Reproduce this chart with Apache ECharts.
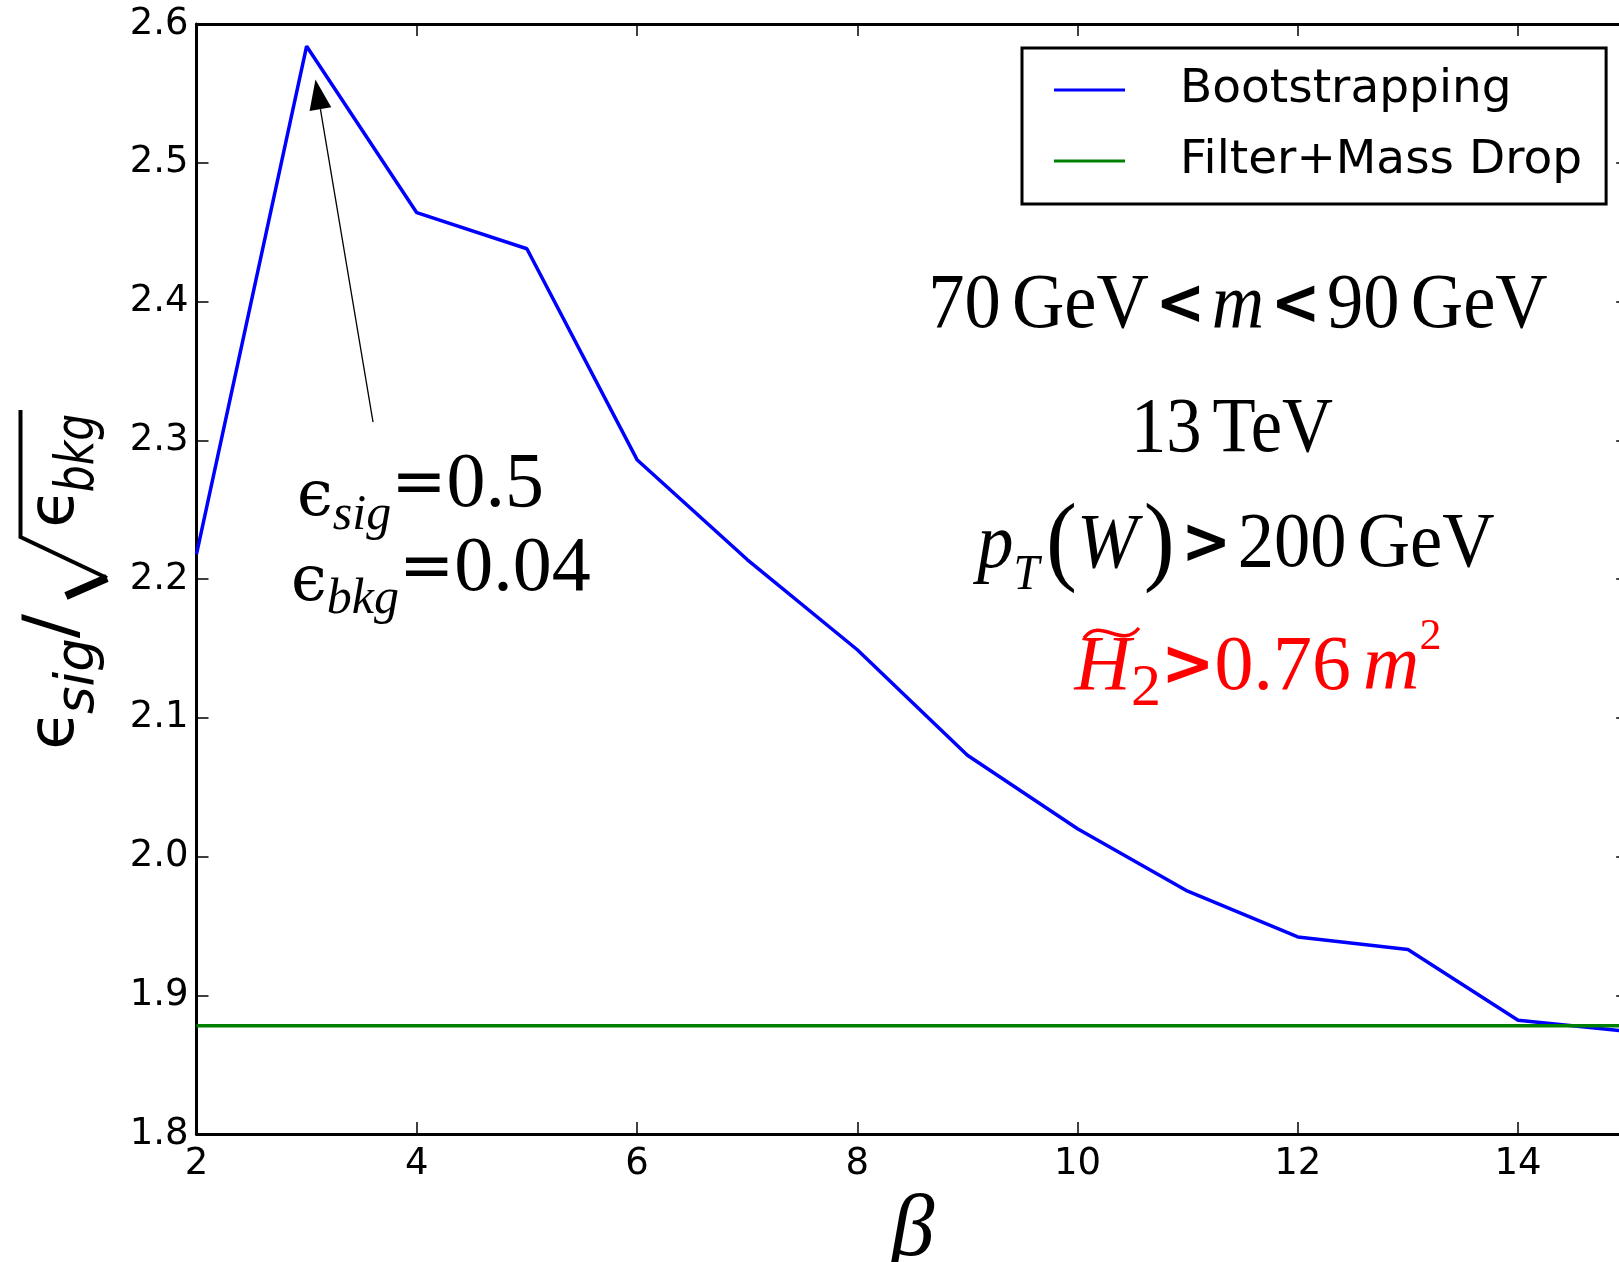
<!DOCTYPE html>
<html>
<head>
<meta charset="utf-8">
<script src="https://cdn.jsdelivr.net/npm/echarts@6/dist/echarts.min.js"></script>
<style>
  html, body { margin: 0; padding: 0; background: #fff; }
  #chart { width: 1619px; height: 1262px; }
</style>
</head>
<body>
<div id="chart"></div>
<script>
// beta scan, eff_sig / sqrt(eff_bkg)
const betaValues = [2, 3, 4, 5, 6, 7, 8, 9, 10, 11, 12, 13, 14, 15]
const bootstrapping = [2.218, 2.584, 2.464, 2.438, 2.286, 2.214, 2.149, 2.073, 2.020, 1.975, 1.942, 1.933, 1.882, 1.874]
const filterMassDrop = [1.878, 1.878, 1.878, 1.878, 1.878, 1.878, 1.878, 1.878, 1.878, 1.878, 1.878, 1.878, 1.878, 1.878]
const xTicks = [2, 4, 6, 8, 10, 12, 14]
const yTicks = [1.8, 1.9, 2.0, 2.1, 2.2, 2.3, 2.4, 2.5, 2.6]
// annotation arrow (data coords)
const arrowTip = [3.08, 2.56]
const arrowTail = [3.603, 2.313]

const serif = "'Liberation Serif', 'Times New Roman', serif"
const sans = "'DejaVu Sans', sans-serif"

// token "height" drives the sub/superscript offset (bottom/top of a 90px line)
function richSet(color) {
  return {
    n: { fontFamily: serif, fontSize: 78, lineHeight: 90, fill: color, verticalAlign: 'middle' },
    i: { fontFamily: serif, fontStyle: 'italic', fontSize: 78, lineHeight: 90, fill: color, verticalAlign: 'middle' },
    op: { fontFamily: sans, fontWeight: 'bold', fontSize: 64, lineHeight: 90, fill: color, verticalAlign: 'middle' },
    sp: { fontFamily: serif, fontSize: 48, lineHeight: 90, fill: color, verticalAlign: 'middle' },
    g: { fontFamily: sans, fontSize: 22, lineHeight: 90, fill: color, verticalAlign: 'middle' },
    sub: { fontFamily: serif, fontStyle: 'italic', fontSize: 50, height: 30, fill: color, verticalAlign: 'bottom' },
    subn: { fontFamily: serif, fontSize: 60, height: 48, fill: color, verticalAlign: 'bottom' },
    sup: { fontFamily: serif, fontSize: 44, height: 28, fill: color, verticalAlign: 'top' },
    par: { fontFamily: serif, fontSize: 100, lineHeight: 90, fill: color, verticalAlign: 'middle' },
    eps: { fontFamily: "'DejaVu Serif', serif", fontSize: 64, height: 64, fill: color, verticalAlign: 'bottom' },
    eq: { fontFamily: sans, fontSize: 66, lineHeight: 90, fill: color, verticalAlign: 'middle' },
  }
}

function mathText(text, x, y, color, align, scaleX) {
  return {
    type: 'text',
    x: x,
    y: y,
    scaleX: scaleX || 1,
    silent: true,
    style: {
      text: text,
      rich: richSet(color),
      align: align || 'center',
      verticalAlign: 'middle',
      fill: color,
    },
  }
}

// rotated pieces of the y axis title
function yPiece(text, x, y, size, italic, scaleX) {
  return {
    type: 'text',
    x: x,
    y: y,
    rotation: Math.PI / 2,
    scaleX: scaleX || 1,
    silent: true,
    style: {
      text: text,
      fontFamily: sans,
      fontSize: size,
      fontStyle: italic ? 'italic' : 'normal',
      fill: '#000',
      align: 'center',
      verticalAlign: 'middle',
    },
  }
}

const chart = echarts.init(document.getElementById('chart'))

const axisFont = { fontFamily: sans, fontSize: 37, color: '#000' }
const spine = { show: true, lineStyle: { color: '#000', width: 3 } }
const innerTick = { show: true, inside: true, length: 12, lineStyle: { color: '#000', width: 1.5 } }

const option = {
  animation: false,
  backgroundColor: '#fff',
  grid: {
    left: 196.5,
    top: 24,
    width: 1431.7,
    height: 1110,
    containLabel: false,
    outerBoundsMode: 'none',
  },
  legend: {
    orient: 'vertical',
    left: 1022,
    top: 48,
    padding: [17, 24, 18, 32],
    icon: 'rect',
    itemWidth: 71,
    itemHeight: 3,
    itemGap: 21,
    borderColor: '#000',
    borderWidth: 3,
    backgroundColor: '#fff',
    textStyle: {
      fontFamily: sans,
      fontSize: 47,
      color: '#000',
      lineHeight: 50,
      padding: [0, 0, 0, 50],
    },
    data: ['Bootstrapping', 'Filter+Mass Drop'],
  },
  xAxis: [
    {
      type: 'value',
      position: 'bottom',
      min: xTicks[0],
      max: betaValues[betaValues.length - 1],
      interval: xTicks[1] - xTicks[0],
      axisLine: spine,
      axisTick: innerTick,
      splitLine: { show: false },
      axisLabel: Object.assign({ margin: 12, showMaxLabel: false }, axisFont),
      name: 'β',
      nameLocation: 'middle',
      nameGap: 33,
      nameTextStyle: { fontFamily: serif, fontStyle: 'italic', fontSize: 88, color: '#000', verticalAlign: 'top' },
    },
    {
      type: 'value',
      position: 'top',
      min: xTicks[0],
      max: betaValues[betaValues.length - 1],
      interval: xTicks[1] - xTicks[0],
      axisLine: spine,
      axisTick: innerTick,
      splitLine: { show: false },
      axisLabel: { show: false },
    },
  ],
  yAxis: [
    {
      type: 'value',
      position: 'left',
      min: yTicks[0],
      max: yTicks[yTicks.length - 1],
      interval: 0.1,
      axisLine: spine,
      axisTick: innerTick,
      splitLine: { show: false },
      axisLabel: Object.assign({ margin: 8, formatter: (v) => v.toFixed(1) }, axisFont),
    },
    {
      type: 'value',
      position: 'right',
      min: yTicks[0],
      max: yTicks[yTicks.length - 1],
      interval: 0.1,
      axisLine: spine,
      axisTick: innerTick,
      splitLine: { show: false },
      axisLabel: { show: false },
    },
  ],
  series: [
    {
      name: 'Bootstrapping',
      type: 'line',
      data: betaValues.map((b, k) => [b, bootstrapping[k]]),
      symbol: 'none',
      lineStyle: { color: '#0000ff', width: 3.5 },
      itemStyle: { color: '#0000ff' },
      emphasis: { disabled: true },
    },
    {
      name: 'Filter+Mass Drop',
      type: 'line',
      data: betaValues.map((b, k) => [b, filterMassDrop[k]]),
      symbol: 'none',
      lineStyle: { color: '#008000', width: 3.5 },
      itemStyle: { color: '#008000' },
      emphasis: { disabled: true },
    },
  ],
}
chart.setOption(option)

// arrow from the efficiency note to the peak
const tip = chart.convertToPixel({ seriesIndex: 0 }, arrowTip)
const tail = chart.convertToPixel({ seriesIndex: 0 }, arrowTail)
const dx = tip[0] - tail[0]
const dy = tip[1] - tail[1]
const len = Math.sqrt(dx * dx + dy * dy)
const ux = dx / len
const uy = dy / len
const headLen = 30
const headHalf = 11
const bx = tip[0] - ux * headLen
const by = tip[1] - uy * headLen

const black = '#000'
const red = '#ff0000'
chart.setOption({
  graphic: [
    {
      type: 'line',
      silent: true,
      shape: { x1: tail[0], y1: tail[1], x2: bx, y2: by },
      style: { stroke: black, lineWidth: 1.3 },
    },
    {
      type: 'polygon',
      silent: true,
      shape: {
        points: [
          [tip[0], tip[1]],
          [bx - uy * headHalf, by + ux * headHalf],
          [bx + uy * headHalf, by - ux * headHalf],
        ],
      },
      style: { fill: black },
    },
    mathText('{eps|ϵ}{sub|sig}{eq|=}{n|0.5}', 297, 485.5, black, 'left'),
    mathText('{eps|ϵ}{sub|bkg}{eq|=}{n|0.04}', 291, 570, black, 'left'),
    mathText('{n|70}{sp| }{n|GeV}{g| }{op|<}{g| }{i|m}{g| }{op|<}{g| }{n|90}{sp| }{n|GeV}', 1238, 307, black, 'center', 0.93),
    mathText('{n|13}{sp| }{n|TeV}', 1232, 431, black, 'center', 0.905),
    mathText('{i|p}{sub|T}{g| }{par|(}{i|W}{g| }{par|)}{g| }{op|>}{g| }{n|200}{sp| }{n|GeV}', 1236, 546, black, 'center', 0.93),
    mathText('{i|H}{subn|2}{op|>}{n|0.76}{sp| }{i|m}{sup|2}', 1258, 668.5, red),
    // tilde over H
    {
      type: 'bezierCurve',
      silent: true,
      shape: { x1: 1084, y1: 638, cpx1: 1101, cpy1: 616, cpx2: 1121, cpy2: 650, x2: 1139, y2: 628 },
      style: { stroke: red, lineWidth: 3.5, fill: null },
    },
    // y axis title: eps_sig / sqrt(eps_bkg)
    yPiece('ϵ', 56, 730, 64, false),
    yPiece('sig', 79, 676, 53, true),
    yPiece('/', 54, 626, 72, false),
    yPiece('ϵ', 56, 508, 64, false),
    yPiece('bkg', 79, 453, 53, true, 0.8),
    {
      type: 'polyline',
      silent: true,
      shape: { points: [[20.5, 410], [20.5, 537], [107, 578]] },
      style: { stroke: black, lineWidth: 4, fill: null },
    },
    {
      type: 'line',
      silent: true,
      shape: { x1: 107, y1: 578, x2: 66, y2: 596 },
      style: { stroke: black, lineWidth: 8 },
    },
  ],
})
</script>
</body>
</html>
